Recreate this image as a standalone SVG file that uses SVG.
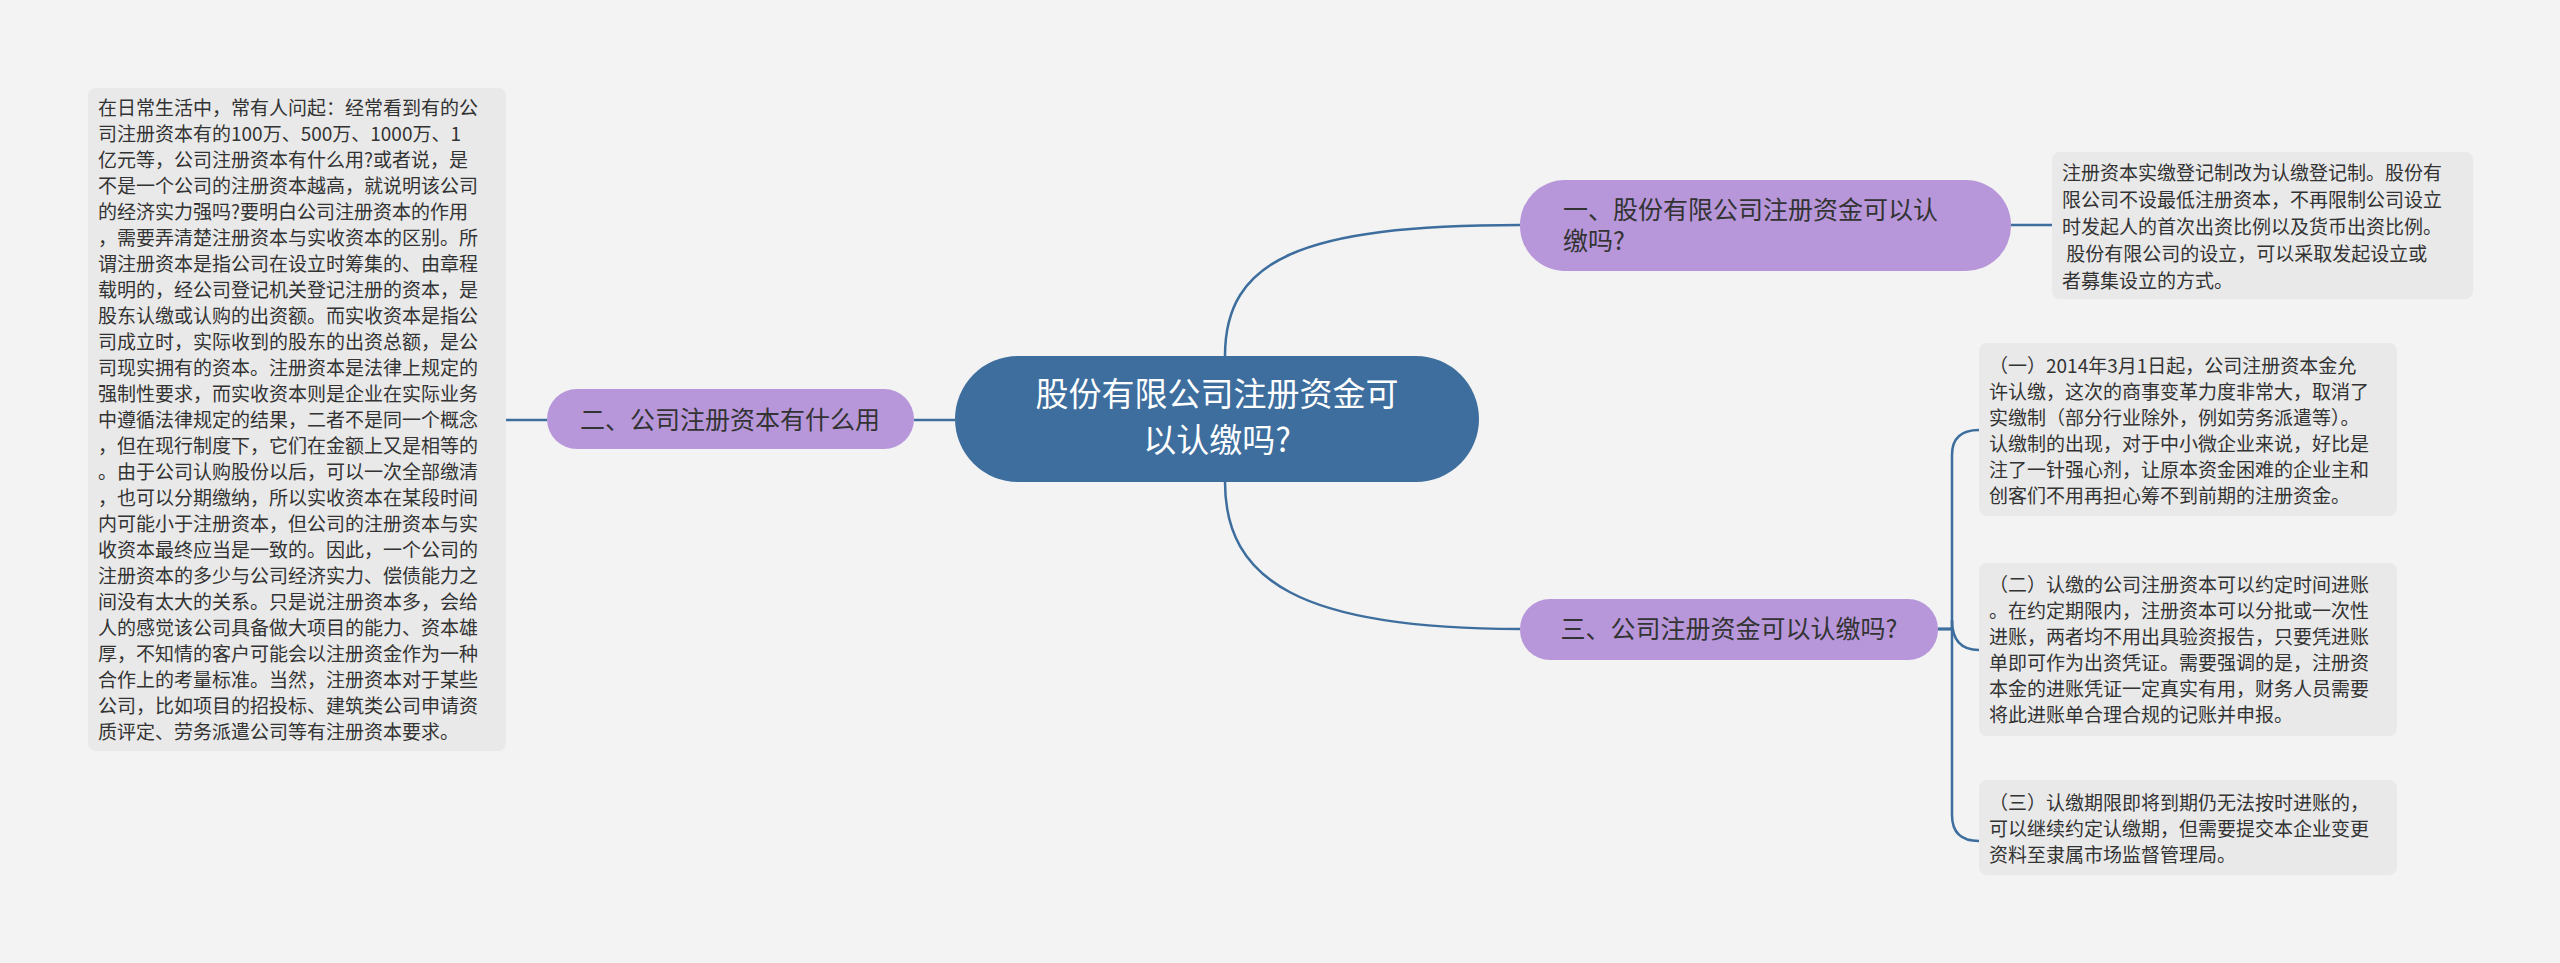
<svg xmlns="http://www.w3.org/2000/svg" width="2560" height="963" viewBox="0 0 2560 963">
<style>
.bg{fill:#f3f3f3}
.box{fill:#e9e9e9}
.t{font-family:"Noto Sans CJK SC","Noto Sans",sans-serif;font-size:19px;fill:#333}
.sub{fill:#b797da}
.st{font-family:"Noto Sans CJK SC","Noto Sans",sans-serif;font-size:25px;fill:#333}
.c{fill:none;stroke:#3d6e9e;stroke-width:2.5}
</style>
<rect class="bg" width="2560" height="963"/>
<g id="connectors">
<path class="c" d="M1225,356 C1225,260 1300,225 1520,225"/>
<path class="c" d="M1225,482 C1225,580 1300,629 1520,629"/>
<path class="c" d="M955,420 H914"/>
<path class="c" d="M547,420 H506"/>
<path class="c" d="M2011,225 H2052"/>
<path class="c" d="M1938,629 H1952 V455 Q1952,430 1979,430"/>
<path class="c" d="M1938,629 H1952 V620 Q1952,650 1979,650"/>
<path class="c" d="M1938,629 H1952 V815 Q1952,841 1979,841"/>
</g>
<g id="center">
<rect x="955" y="356" width="524" height="126" rx="63" fill="#3d6e9e"/>
<text x="1217" y="406" text-anchor="middle" font-family="Noto Sans CJK SC,sans-serif" font-size="33" fill="#fff">股份有限公司注册资金可<tspan x="1217" y="452">以认缴吗?</tspan></text>
</g>
<g id="n1">
<rect class="sub" x="1520" y="180" width="491" height="91" rx="45"/>
<text class="st" x="1563" y="219">一、股份有限公司注册资金可以认<tspan x="1563" y="250">缴吗?</tspan></text>
</g>
<g id="n2">
<rect class="sub" x="547" y="389" width="367" height="60" rx="30"/>
<text class="st" x="730" y="429" text-anchor="middle">二、公司注册资本有什么用</text>
</g>
<g id="n3">
<rect class="sub" x="1520" y="599" width="418" height="61" rx="30"/>
<text class="st" x="1729" y="638" text-anchor="middle">三、公司注册资金可以认缴吗?</text>
</g>
<g id="left">
<rect class="box" x="88" y="88" width="418" height="663" rx="8"/>
<text class="t" x="98" y="115">在日常生活中，常有人问起：经常看到有的公<tspan x="98" dy="26">司注册资本有的100万、500万、1000万、1</tspan><tspan x="98" dy="26">亿元等，公司注册资本有什么用?或者说，是</tspan><tspan x="98" dy="26">不是一个公司的注册资本越高，就说明该公司</tspan><tspan x="98" dy="26">的经济实力强吗?要明白公司注册资本的作用</tspan><tspan x="98" dy="26">，需要弄清楚注册资本与实收资本的区别。所</tspan><tspan x="98" dy="26">谓注册资本是指公司在设立时筹集的、由章程</tspan><tspan x="98" dy="26">载明的，经公司登记机关登记注册的资本，是</tspan><tspan x="98" dy="26">股东认缴或认购的出资额。而实收资本是指公</tspan><tspan x="98" dy="26">司成立时，实际收到的股东的出资总额，是公</tspan><tspan x="98" dy="26">司现实拥有的资本。注册资本是法律上规定的</tspan><tspan x="98" dy="26">强制性要求，而实收资本则是企业在实际业务</tspan><tspan x="98" dy="26">中遵循法律规定的结果，二者不是同一个概念</tspan><tspan x="98" dy="26">，但在现行制度下，它们在金额上又是相等的</tspan><tspan x="98" dy="26">。由于公司认购股份以后，可以一次全部缴清</tspan><tspan x="98" dy="26">，也可以分期缴纳，所以实收资本在某段时间</tspan><tspan x="98" dy="26">内可能小于注册资本，但公司的注册资本与实</tspan><tspan x="98" dy="26">收资本最终应当是一致的。因此，一个公司的</tspan><tspan x="98" dy="26">注册资本的多少与公司经济实力、偿债能力之</tspan><tspan x="98" dy="26">间没有太大的关系。只是说注册资本多，会给</tspan><tspan x="98" dy="26">人的感觉该公司具备做大项目的能力、资本雄</tspan><tspan x="98" dy="26">厚，不知情的客户可能会以注册资金作为一种</tspan><tspan x="98" dy="26">合作上的考量标准。当然，注册资本对于某些</tspan><tspan x="98" dy="26">公司，比如项目的招投标、建筑类公司申请资</tspan><tspan x="98" dy="26">质评定、劳务派遣公司等有注册资本要求。</tspan></text>
</g>
<g id="r1">
<rect class="box" x="2052" y="152" width="421" height="147" rx="8"/>
<text class="t" x="2062" y="180">注册资本实缴登记制改为认缴登记制。股份有<tspan x="2062" dy="27">限公司不设最低注册资本，不再限制公司设立</tspan><tspan x="2062" dy="27">时发起人的首次出资比例以及货币出资比例。</tspan><tspan x="2062" dy="27"> 股份有限公司的设立，可以采取发起设立或</tspan><tspan x="2062" dy="27">者募集设立的方式。</tspan></text>
</g>
<g id="r2">
<rect class="box" x="1979" y="343" width="418" height="173" rx="8"/>
<text class="t" x="1989" y="373">（一）2014年3月1日起，公司注册资本金允<tspan x="1989" dy="26">许认缴，这次的商事变革力度非常大，取消了</tspan><tspan x="1989" dy="26">实缴制（部分行业除外，例如劳务派遣等）。</tspan><tspan x="1989" dy="26">认缴制的出现，对于中小微企业来说，好比是</tspan><tspan x="1989" dy="26">注了一针强心剂，让原本资金困难的企业主和</tspan><tspan x="1989" dy="26">创客们不用再担心筹不到前期的注册资金。</tspan></text>
</g>
<g id="r3">
<rect class="box" x="1979" y="563" width="418" height="173" rx="8"/>
<text class="t" x="1989" y="592">（二）认缴的公司注册资本可以约定时间进账<tspan x="1989" dy="26">。在约定期限内，注册资本可以分批或一次性</tspan><tspan x="1989" dy="26">进账，两者均不用出具验资报告，只要凭进账</tspan><tspan x="1989" dy="26">单即可作为出资凭证。需要强调的是，注册资</tspan><tspan x="1989" dy="26">本金的进账凭证一定真实有用，财务人员需要</tspan><tspan x="1989" dy="26">将此进账单合理合规的记账并申报。</tspan></text>
</g>
<g id="r4">
<rect class="box" x="1979" y="780" width="418" height="95" rx="8"/>
<text class="t" x="1989" y="810">（三）认缴期限即将到期仍无法按时进账的，<tspan x="1989" dy="26">可以继续约定认缴期，但需要提交本企业变更</tspan><tspan x="1989" dy="26">资料至隶属市场监督管理局。</tspan></text>
</g>
</svg>
